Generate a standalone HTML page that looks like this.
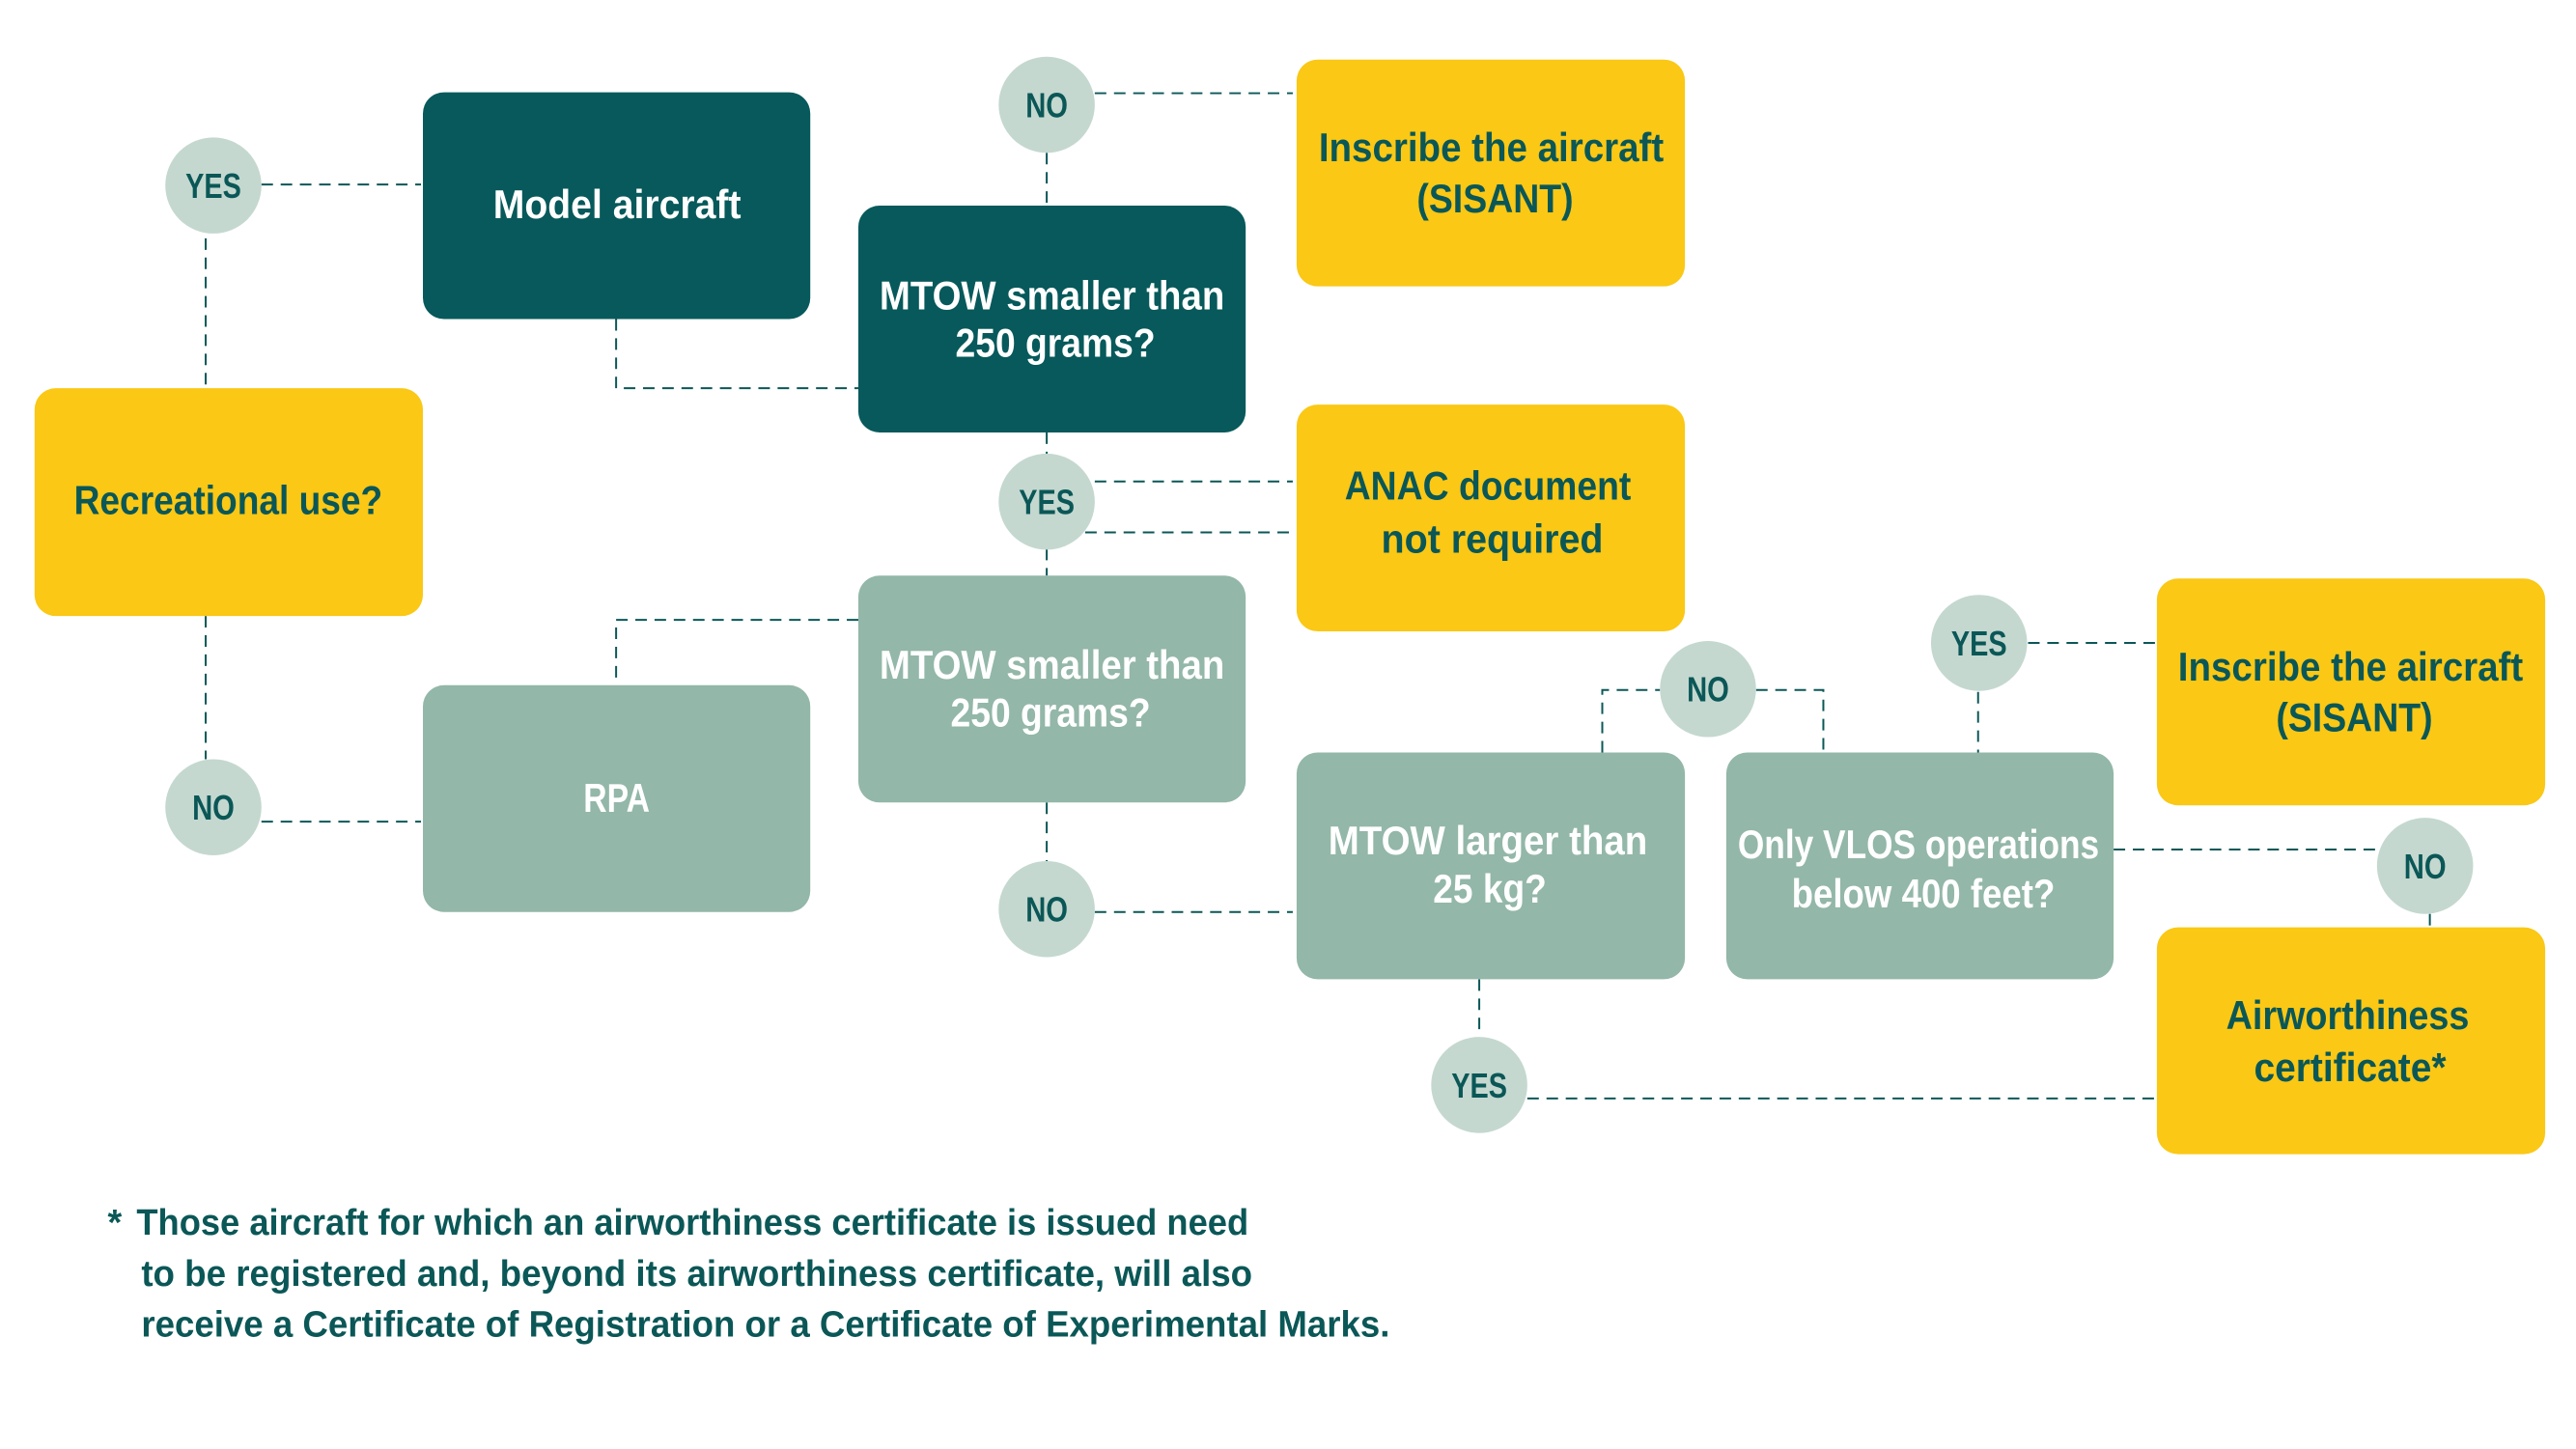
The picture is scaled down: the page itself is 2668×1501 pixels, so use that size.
<!DOCTYPE html>
<html><head><meta charset="utf-8"><style>
html,body{margin:0;padding:0;background:#fff;}
svg{display:block;}
text{font-family:"Liberation Sans Narrow","Liberation Sans",sans-serif;font-weight:bold;}
</style></head><body>
<svg width="2668" height="1501" viewBox="0 0 2668 1501" xmlns="http://www.w3.org/2000/svg">
<g transform="scale(0.9955)">
<g stroke="#0b5757" stroke-width="2" stroke-dasharray="12 8" fill="none">
<line x1="272" y1="192" x2="438" y2="192"/>
<line x1="214" y1="248" x2="214" y2="404"/>
<line x1="214" y1="641" x2="214" y2="790"/>
<line x1="272" y1="855" x2="438" y2="855"/>
<polyline points="641,332 641,404 893,404"/>
<line x1="1089" y1="159" x2="1089" y2="214"/>
<line x1="1139" y1="97" x2="1345" y2="97"/>
<line x1="1089" y1="450" x2="1089" y2="474"/>
<line x1="1139" y1="501" x2="1345" y2="501"/>
<line x1="1129" y1="554" x2="1349" y2="554"/>
<line x1="1089" y1="571" x2="1089" y2="599"/>
<polyline points="893,645 641,645 641,713"/>
<line x1="1089" y1="835" x2="1089" y2="896"/>
<line x1="1139" y1="949" x2="1345" y2="949"/>
<polyline points="1667,783 1667,718 1727,718"/>
<polyline points="1827,718 1897,718 1897,783"/>
<line x1="2058" y1="720" x2="2058" y2="783"/>
<line x1="2110" y1="669" x2="2244" y2="669"/>
<line x1="2199" y1="884" x2="2473" y2="884"/>
<line x1="2528" y1="951" x2="2528" y2="965"/>
<line x1="1539" y1="1019" x2="1539" y2="1078"/>
<line x1="1589" y1="1143" x2="2244" y2="1143"/>
</g>
<g>
<rect x="36" y="404" width="404" height="237" rx="22" fill="#fac815"/>
<rect x="440" y="96" width="403" height="236" rx="22" fill="#07595b"/>
<rect x="440" y="713" width="403" height="236" rx="22" fill="#93b7a8"/>
<rect x="893" y="214" width="403" height="236" rx="22" fill="#07595b"/>
<rect x="893" y="599" width="403" height="236" rx="22" fill="#93b7a8"/>
<rect x="1349" y="62" width="404" height="236" rx="22" fill="#fac815"/>
<rect x="1349" y="421" width="404" height="236" rx="22" fill="#fac815"/>
<rect x="1349" y="783" width="404" height="236" rx="22" fill="#93b7a8"/>
<rect x="1796" y="783" width="403" height="236" rx="22" fill="#93b7a8"/>
<rect x="2244" y="602" width="404" height="236" rx="22" fill="#fac815"/>
<rect x="2244" y="965" width="404" height="236" rx="22" fill="#fac815"/>
</g>
<g fill="#c4d8cf">
<circle cx="222" cy="193" r="50"/>
<circle cx="222" cy="840" r="50"/>
<circle cx="1089" cy="109" r="50"/>
<circle cx="1089" cy="522" r="50"/>
<circle cx="1089" cy="946" r="50"/>
<circle cx="1777" cy="717" r="50"/>
<circle cx="2059" cy="669" r="50"/>
<circle cx="2523" cy="901" r="50"/>
<circle cx="1539" cy="1129" r="50"/>
</g>
<g font-size="36" fill="#0b5757" text-anchor="middle">
<text x="222" y="206" textLength="58" lengthAdjust="spacingAndGlyphs">YES</text>
<text x="222" y="853" textLength="44" lengthAdjust="spacingAndGlyphs">NO</text>
<text x="1089" y="122" textLength="44" lengthAdjust="spacingAndGlyphs">NO</text>
<text x="1089" y="535" textLength="58" lengthAdjust="spacingAndGlyphs">YES</text>
<text x="1089" y="959" textLength="44" lengthAdjust="spacingAndGlyphs">NO</text>
<text x="1777" y="730" textLength="44" lengthAdjust="spacingAndGlyphs">NO</text>
<text x="2059" y="682" textLength="58" lengthAdjust="spacingAndGlyphs">YES</text>
<text x="2523" y="914" textLength="44" lengthAdjust="spacingAndGlyphs">NO</text>
<text x="1539" y="1142" textLength="58" lengthAdjust="spacingAndGlyphs">YES</text>
</g>
<g font-size="42" fill="#fff">
<text x="513" y="227" textLength="258" lengthAdjust="spacingAndGlyphs">Model aircraft</text>
<text x="915" y="322" textLength="359" lengthAdjust="spacingAndGlyphs">MTOW smaller than</text>
<text x="994" y="371" textLength="208" lengthAdjust="spacingAndGlyphs">250 grams?</text>
<text x="915" y="706" textLength="359" lengthAdjust="spacingAndGlyphs">MTOW smaller than</text>
<text x="989" y="756" textLength="208" lengthAdjust="spacingAndGlyphs">250 grams?</text>
<text x="607" y="845" textLength="69" lengthAdjust="spacingAndGlyphs">RPA</text>
<text x="1382" y="889" textLength="332" lengthAdjust="spacingAndGlyphs">MTOW larger than</text>
<text x="1491" y="939" textLength="118" lengthAdjust="spacingAndGlyphs">25 kg?</text>
<text x="1808" y="893" textLength="376" lengthAdjust="spacingAndGlyphs">Only VLOS operations</text>
<text x="1864" y="944" textLength="274" lengthAdjust="spacingAndGlyphs">below 400 feet?</text>
</g>
<g font-size="42" fill="#0b5757">
<text x="77" y="535" textLength="321" lengthAdjust="spacingAndGlyphs">Recreational use?</text>
<text x="1372" y="168" textLength="359" lengthAdjust="spacingAndGlyphs">Inscribe the aircraft</text>
<text x="1474" y="221" textLength="163" lengthAdjust="spacingAndGlyphs">(SISANT)</text>
<text x="1399" y="520" textLength="298" lengthAdjust="spacingAndGlyphs">ANAC document</text>
<text x="1437" y="575" textLength="231" lengthAdjust="spacingAndGlyphs">not required</text>
<text x="2266" y="708" textLength="359" lengthAdjust="spacingAndGlyphs">Inscribe the aircraft</text>
<text x="2368" y="761" textLength="163" lengthAdjust="spacingAndGlyphs">(SISANT)</text>
<text x="2316" y="1071" textLength="253" lengthAdjust="spacingAndGlyphs">Airworthiness</text>
<text x="2345" y="1125" textLength="200" lengthAdjust="spacingAndGlyphs">certificate*</text>
</g>
<g font-size="38" fill="#0b5757">
<text x="112" y="1285">*</text>
<text x="142" y="1285" textLength="1157" lengthAdjust="spacingAndGlyphs">Those aircraft for which an airworthiness certificate is issued need</text>
<text x="147" y="1338" textLength="1156" lengthAdjust="spacingAndGlyphs">to be registered and, beyond its airworthiness certificate, will also</text>
<text x="147" y="1391" textLength="1299" lengthAdjust="spacingAndGlyphs">receive a Certificate of Registration or a Certificate of Experimental Marks.</text>
</g>
</g>
</svg>
</body></html>
